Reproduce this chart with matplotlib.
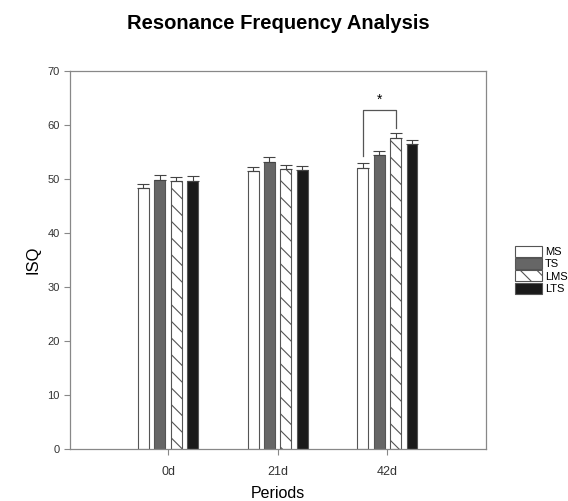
import numpy as np
import matplotlib.pyplot as plt

plt.rcParams['font.family'] = ['Liberation Sans', 'DejaVu Sans']
plt.rcParams['hatch.linewidth'] = 0.8

periods = ['0d', '21d', '42d']
groups = ['MS', 'TS', 'LMS', 'LTS']
ms = [48.3, 51.4, 52.0]
ts = [49.9, 53.2, 54.4]
lms = [49.6, 51.8, 57.6]
lts = [49.6, 51.6, 56.4]
ms_err = [0.8, 0.9, 0.9]
ts_err = [0.9, 0.8, 0.8]
lms_err = [0.8, 0.8, 0.9]
lts_err = [0.9, 0.8, 0.8]

values = [ms, ts, lms, lts]
errors = [ms_err, ts_err, lms_err, lts_err]
faces = ['white', '#666666', 'white', '#1a1a1a']
hatches = [None, None, '\\\\', None]

fig = plt.figure(figsize=(5.68, 5.01), dpi=100)
ax = fig.add_axes([0.1232, 0.1038, 0.7324, 0.7545])

x = np.arange(len(periods))
width = 0.10
step = 0.15
for i in range(4):
    pos = x + (i - 1.5) * step
    ax.bar(pos, values[i], width, color=faces[i], edgecolor='#555555',
           linewidth=0.8, hatch=hatches[i], label=groups[i], zorder=2)
    ax.errorbar(pos, values[i], yerr=[np.zeros(3), errors[i]], fmt='none',
                ecolor='#444444', elinewidth=0.8, capsize=4, capthick=0.8,
                zorder=3)

# significance bracket between MS and LMS at 42d
x1 = x[2] - 1.5 * step
x2 = x[2] + 0.5 * step
ax.plot([x1, x1, x2, x2], [54.3, 62.8, 62.8, 59.4], color='#555555', lw=0.9)
ax.text((x1 + x2) / 2, 63.4, '*', ha='center', va='bottom', fontsize=10)

ax.set_xlim(-0.895, 2.90)
ax.set_ylim(0, 70)
ax.set_yticks(range(0, 71, 10))
ax.set_xticks(x)
ax.set_xticklabels(periods)
for s in ax.spines.values():
    s.set_color('#888888')
    s.set_linewidth(0.9)
ax.tick_params(colors='#888888', labelcolor='#333333', labelsize=8,
               length=4, width=0.8)
ax.tick_params(axis='x', pad=8, labelsize=9)

ax.set_ylabel('ISQ', fontsize=12, labelpad=5)
ax.set_xlabel('Periods', fontsize=11.5, labelpad=6)
ax.set_title('Resonance Frequency Analysis', fontsize=14.5, fontweight='bold', pad=30)

ax.legend(loc='center left', bbox_to_anchor=(1.06, 0.474), frameon=False,
          fontsize=8, handlelength=2.4, handleheight=1.15,
          labelspacing=0.1, handletextpad=0.25, borderaxespad=0)

fig.savefig('out.png', dpi=100)
